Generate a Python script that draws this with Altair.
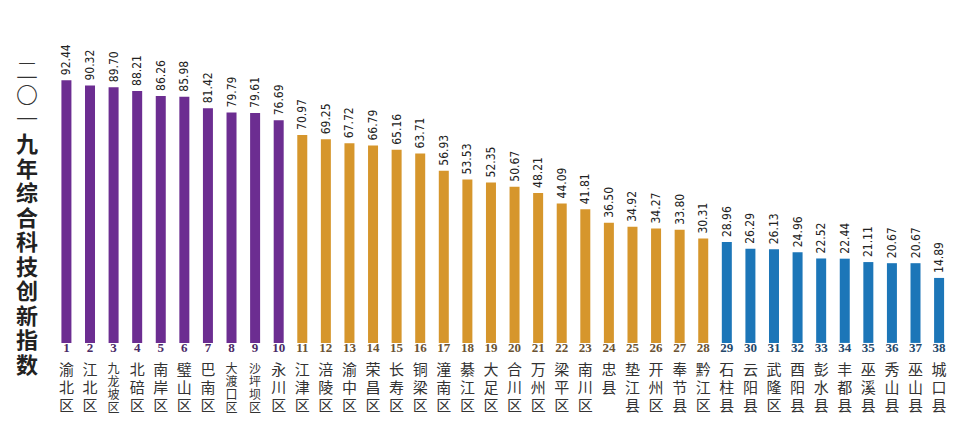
import altair as alt
import pandas as pd

ranks = list(range(1, 39))
districts = ["渝北区", "江北区", "九龙坡区", "北碚区", "南岸区", "璧山区", "巴南区", "大渡口区", "沙坪坝区", "永川区",
             "江津区", "涪陵区", "渝中区", "荣昌区", "长寿区", "铜梁区", "潼南区", "綦江区", "大足区", "合川区",
             "万州区", "梁平区", "南川区", "忠县", "垫江县", "开州区", "奉节县", "黔江区",
             "石柱县", "云阳县", "武隆区", "酉阳县", "彭水县", "丰都县", "巫溪县", "秀山县", "巫山县", "城口县"]
values = [92.44, 90.32, 89.70, 88.21, 86.26, 85.98, 81.42, 79.79, 79.61, 76.69,
          70.97, 69.25, 67.72, 66.79, 65.16, 63.71, 56.93, 53.53, 52.35, 50.67,
          48.21, 44.09, 41.81, 36.50, 34.92, 34.27, 33.80, 30.31,
          28.96, 26.29, 26.13, 24.96, 22.52, 22.44, 21.11, 20.67, 20.67, 14.89]
groups = ["第一梯队"] * 10 + ["第二梯队"] * 18 + ["第三梯队"] * 10
title_a = "二〇一"
title_b = "九年综合科技创新指数"

df = pd.DataFrame({
    "rank": ranks,
    "district": districts,
    "value": values,
    "group": groups,
})
df["label"] = df["value"].map(lambda v: f"{v:.2f}")
df["vname"] = df["district"].map(lambda s: "\n".join(list(s)))
df["nlen"] = df["district"].map(len)
df["rank_s"] = df["rank"].astype(str)

W, H = 946, 418
BASE = -10.6
group_dom = ["第一梯队", "第二梯队", "第三梯队"]
bar_colors = ["#6c2d91", "#d6962c", "#1c76b8"]
rank_colors = ["#4a2a66", "#6a5232", "#24476a"]

xenc = alt.X("rank:Q", scale=alt.Scale(domain=[-1.265, 38.42], nice=False, zero=False), axis=None)
yscale = alt.Scale(domain=[-43.18, 120.75], nice=False, zero=False)

base = alt.Chart(df)

bars = base.mark_bar(size=10).encode(
    x=xenc,
    y=alt.Y("value:Q", scale=yscale, axis=None),
    y2=alt.datum(BASE),
    color=alt.Color("group:N", scale=alt.Scale(domain=group_dom, range=bar_colors), legend=None),
)

vlabels = base.mark_text(
    angle=270, align="left", baseline="middle", dx=5,
    font="DejaVu Sans Condensed, Liberation Sans, sans-serif",
    fontSize=12, color="#222222",
).encode(
    x=xenc,
    y=alt.Y("value:Q", scale=yscale, axis=None),
    text="label:N",
)

rlabels = base.mark_text(
    align="center", baseline="middle", font="Liberation Serif",
    fontWeight="bold", fontSize=13,
).encode(
    x=xenc,
    y=alt.value(340),
    text="rank_s:N",
    color=alt.Color("group:N", scale=alt.Scale(domain=group_dom, range=rank_colors), legend=None),
)

names3 = base.transform_filter("datum.nlen <= 3").mark_text(
    align="center", baseline="top", lineBreak="\n", lineHeight=18,
    font="Noto Sans CJK SC", fontSize=15, color="#333333",
).encode(
    x=xenc,
    y=alt.value(355),
    text="vname:N",
)

names4 = base.transform_filter("datum.nlen > 3").mark_text(
    align="center", baseline="top", lineBreak="\n", lineHeight=13,
    font="Noto Sans CJK SC", fontSize=12, color="#333333",
).encode(
    x=xenc,
    y=alt.value(356),
    text="vname:N",
)

tdf = pd.DataFrame({"a": ["\n".join(list(title_a))], "b": ["\n".join(list(title_b))]})
title1 = alt.Chart(tdf).mark_text(
    align="center", baseline="middle", lineBreak="\n", lineHeight=24.5,
    font="Noto Sans CJK SC", fontSize=22, fontWeight=300, color="#333333",
).encode(x=alt.value(19), y=alt.value(63), text="a:N")
title2 = alt.Chart(tdf).mark_text(
    align="center", baseline="top", lineBreak="\n", lineHeight=24.5,
    font="Noto Sans CJK SC", fontSize=22, fontWeight="bold", color="#222222",
).encode(x=alt.value(19), y=alt.value(127), text="b:N")

chart = alt.layer(bars, vlabels, rlabels, names3, names4, title1, title2).resolve_scale(
    color="independent"
).properties(
    width=W, height=H,
    autosize=alt.AutoSizeParams(type="none"),
    padding={"left": 0, "top": 0, "right": 0, "bottom": 0},
    background="white",
).configure_view(stroke=None)

chart.save("out.html", embed_options={"renderer": "svg", "actions": False})
